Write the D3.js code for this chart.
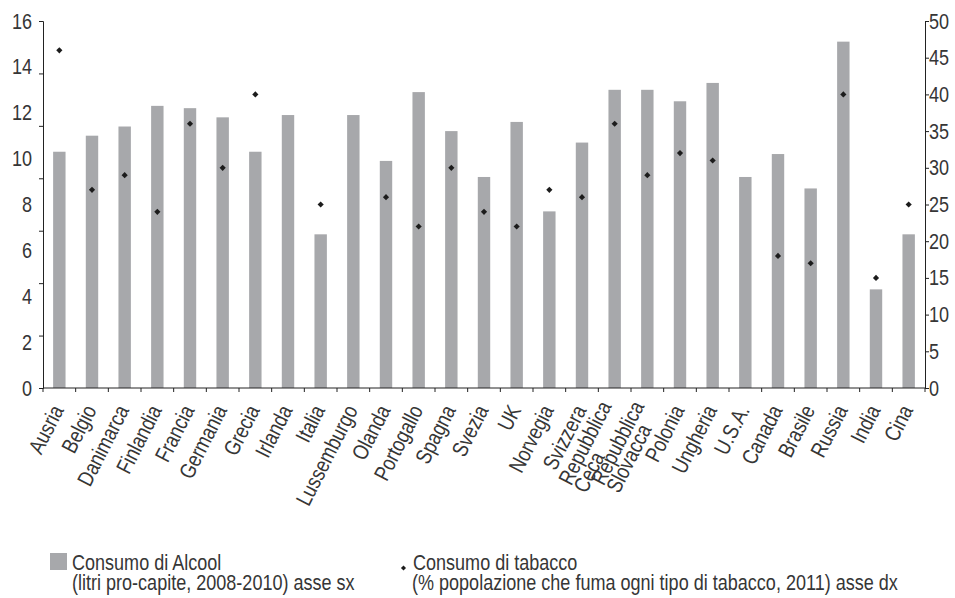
<!DOCTYPE html>
<html>
<head>
<meta charset="utf-8">
<script src="https://cdn.jsdelivr.net/npm/d3@7"></script>
<style>
  html, body { margin: 0; padding: 0; background: #ffffff; }
  svg { display: block; }
  text { font-family: "Liberation Sans", Arial, sans-serif; fill: #363636; }
</style>
</head>
<body>
<svg id="chart" width="955" height="598"></svg>
<script>
// Paesi (le etichette su due righe sono separate da "\n")
const categories = [
  "Ausria", "Belgio", "Danimarca", "Finlandia", "Francia", "Germania", "Grecia",
  "Irlanda", "Italia", "Lussemburgo", "Olanda", "Portogallo", "Spagna", "Svezia",
  "UK", "Norvegia", "Svizzera", "Repubblica\nCeca", "Repubblica\nSlovacca",
  "Polonia", "Ungheria", "U.S.A.", "Canada", "Brasile", "Russia", "India", "Cina"
];

// Consumo di alcool, litri pro-capite 2008-2010 (asse sinistro)
const alcool = [
  10.3, 11.0, 11.4, 12.3, 12.2, 11.8, 10.3,
  11.9, 6.7, 11.9, 9.9, 12.9, 11.2, 9.2,
  11.6, 7.7, 10.7, 13.0, 13.0,
  12.5, 13.3, 9.2, 10.2, 8.7, 15.1, 4.3, 6.7
];

// Fumatori, % della popolazione 2011 (asse destro); null = dato mancante
const tabacco = [
  46, 27, 29, 24, 36, 30, 40,
  null, 25, null, 26, 22, 30, 24,
  22, 27, 26, 36, 29,
  32, 31, null, 18, 17, 40, 15, 25
];

const leftTicks = [0, 2, 4, 6, 8, 10, 12, 14, 16];
const rightTicks = [0, 5, 10, 15, 20, 25, 30, 35, 40, 45, 50];

const legendAlcool = ["Consumo di Alcool", "(litri pro-capite, 2008-2010) asse sx"];
const legendTabacco = ["Consumo di tabacco", "(% popolazione che fuma ogni tipo di tabacco, 2011) asse dx"];

// ---- layout ----
const plot = { left: 43, right: 925, top: 21, bottom: 388 };
const barColor = "#a7a8ab";
const markColor = "#1c1c1c";
const axisColor = "#222222";
const fontSize = 22;
const narrow = 0.82;   // horizontal squeeze giving a condensed face

const svg = d3.select("#chart");

// squeeze a text horizontally while keeping its anchor point in place
function condense(sel) {
  sel.each(function () {
    const t = d3.select(this);
    const x0 = +(t.attr("x") || 0);
    t.attr("x", x0 / narrow).attr("transform", `scale(${narrow},1)`);
  });
}

const x = d3.scaleBand()
  .domain(categories)
  .range([plot.left, plot.right])
  .paddingInner(0.62)
  .paddingOuter(0.31);

const yL = d3.scaleLinear().domain([0, 16]).range([plot.bottom, plot.top]);
const yR = d3.scaleLinear().domain([0, 50]).range([plot.bottom, plot.top]);

// ---- bars (alcool) ----
svg.append("g")
  .selectAll("rect")
  .data(categories)
  .join("rect")
  .attr("x", d => x(d))
  .attr("width", x.bandwidth())
  .attr("y", (d, i) => yL(alcool[i]))
  .attr("height", (d, i) => yL(0) - yL(alcool[i]))
  .attr("fill", barColor);

// ---- markers (tabacco) ----
const diamond = d3.symbol().type(d3.symbolSquare).size(19);
svg.append("g")
  .selectAll("path")
  .data(categories.map((c, i) => ({ c, v: tabacco[i] })).filter(d => d.v != null))
  .join("path")
  .attr("d", diamond)
  .attr("transform", d => `translate(${x(d.c) + x.bandwidth() / 2},${yR(d.v)}) rotate(45)`)
  .attr("fill", markColor);

// ---- left axis: tick marks and labels ----
const leftMarks = d3.range(8).map(i => i * 16 / 7);
const gLeft = svg.append("g").attr("transform", `translate(${plot.left},0)`);
gLeft.call(d3.axisLeft(yL).tickValues(leftMarks).tickSize(4).tickFormat(""));
gLeft.select(".domain").attr("stroke", axisColor);
gLeft.selectAll(".tick line").attr("stroke", axisColor);

const gLeftLab = svg.append("g").attr("transform", `translate(${plot.left},0)`);
gLeftLab.call(d3.axisLeft(yL).tickValues(leftTicks).tickSize(0).tickPadding(11));
gLeftLab.select(".domain").remove();
gLeftLab.selectAll("text")
  .attr("font-size", fontSize)
  .attr("font-family", null)
  .attr("fill", null)
  .call(condense);

// ---- right axis ----
const gRight = svg.append("g").attr("transform", `translate(${plot.right},0)`);
gRight.call(d3.axisRight(yR).tickValues(rightTicks).tickSize(4).tickPadding(0));
gRight.select(".domain").attr("stroke", axisColor);
gRight.selectAll(".tick line").attr("stroke", axisColor);
gRight.selectAll("text")
  .attr("font-size", fontSize)
  .attr("font-family", null)
  .attr("fill", null)
  .call(condense);

// ---- bottom axis: line with ticks at category boundaries ----
const boundaries = d3.range(categories.length + 1).map(i => plot.left + i * x.step());
const gBottom = svg.append("g");
gBottom.append("line")
  .attr("x1", plot.left).attr("x2", plot.right)
  .attr("y1", plot.bottom).attr("y2", plot.bottom)
  .attr("stroke", axisColor);
gBottom.selectAll("line.tk")
  .data(boundaries)
  .join("line")
  .attr("class", "tk")
  .attr("x1", d => d).attr("x2", d => d)
  .attr("y1", plot.bottom).attr("y2", plot.bottom + 4)
  .attr("stroke", axisColor);

// ---- rotated category labels ----
const angle = -63;
const lineH = 17;
const labels = svg.append("g").attr("font-size", fontSize);
categories.forEach(name => {
  const cx = x(name) + x.bandwidth() / 2;
  const lines = name.split("\n");
  const g = labels.append("g")
    .attr("transform", `translate(${cx + 5},410) rotate(${angle}) scale(${narrow},1)`);
  const texts = lines.map((ln, i) =>
    g.append("text")
      .attr("text-anchor", "start")
      .attr("y", (i - (lines.length - 1) / 2) * lineH)
      .text(ln));
  const maxW = d3.max(texts, t => t.node().getComputedTextLength());
  texts.forEach(t => t.attr("x", -maxW));
});

// ---- legend ----
const leg = svg.append("g").attr("font-size", fontSize);
leg.append("rect")
  .attr("x", 50).attr("y", 553).attr("width", 17).attr("height", 17)
  .attr("fill", barColor);
legendAlcool.forEach((t, i) => {
  leg.append("text").attr("x", 72).attr("y", 570 + i * 20).text(t);
});
leg.append("path")
  .attr("d", d3.symbol().type(d3.symbolSquare).size(13))
  .attr("transform", "translate(403.5,568) rotate(45)")
  .attr("fill", markColor);
legendTabacco.forEach((t, i) => {
  leg.append("text").attr("x", i === 0 ? 413 : 412).attr("y", 570 + i * 20).text(t);
});
leg.selectAll("text").call(condense);
</script>
</body>
</html>
